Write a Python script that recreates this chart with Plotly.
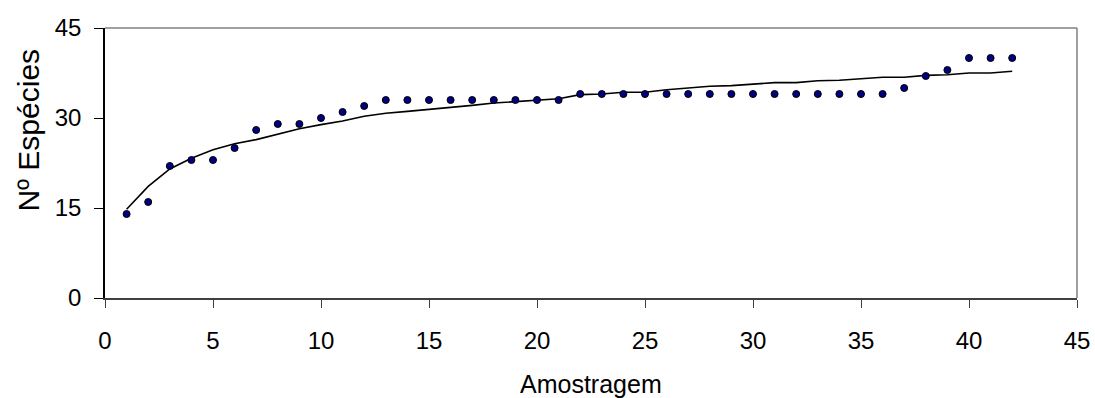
import plotly.graph_objects as go

# Observed species per sample (points)
amostras = list(range(1, 43))
especies_obs = [14, 16, 22, 23, 23, 25, 28, 29, 29, 30,
                31, 32, 33, 33, 33, 33, 33, 33, 33, 33,
                33, 34, 34, 34, 34, 34, 34, 34, 34, 34,
                34, 34, 34, 34, 34, 34, 35, 37, 38, 40,
                40, 40]
# Expected / rarefaction curve (line)
especies_curva = [14.8, 18.6, 21.5, 23.3, 24.7, 25.7, 26.4, 27.3, 28.2, 28.9,
                  29.5, 30.3, 30.8, 31.1, 31.4, 31.8, 32.1, 32.5, 32.7, 32.9,
                  33.2, 33.9, 34.0, 34.3, 34.3, 34.7, 35.0, 35.3, 35.4, 35.7,
                  35.9, 35.9, 36.2, 36.3, 36.6, 36.8, 36.8, 37.1, 37.2, 37.5,
                  37.5, 37.8]

x_ticks = [0, 5, 10, 15, 20, 25, 30, 35, 40, 45]
y_ticks = [0, 15, 30, 45]

FONT = "Liberation Sans, Arial, sans-serif"

fig = go.Figure()
fig.add_trace(go.Scatter(
    x=amostras, y=especies_curva, mode="lines",
    line=dict(color="black", width=1.6), showlegend=False, hoverinfo="skip"))
fig.add_trace(go.Scatter(
    x=amostras, y=especies_obs, mode="markers",
    marker=dict(color="#000080", size=7, line=dict(color="black", width=1)),
    showlegend=False))

fig.update_layout(
    width=1095, height=398,
    margin=dict(l=105, r=18, t=28, b=100, autoexpand=False),
    paper_bgcolor="white", plot_bgcolor="white",
    font=dict(family=FONT, size=24, color="black"),
    xaxis=dict(range=[0, 45], tickvals=x_ticks, ticktext=[str(v) for v in x_ticks],
               showgrid=False, zeroline=False, showline=True, linecolor="#404040",
               linewidth=1.5, ticks="outside", ticklen=8, tickcolor="#404040",
               tickwidth=1, ticklabelstandoff=12,
               tickfont=dict(family=FONT, size=24, color="black")),
    yaxis=dict(range=[0, 45], tickvals=y_ticks, ticktext=[str(v) for v in y_ticks],
               showgrid=False, zeroline=False, showline=True, linecolor="black",
               linewidth=1.5, ticks="outside", ticklen=9, tickcolor="black",
               tickwidth=1, ticklabelstandoff=8,
               tickfont=dict(family=FONT, size=24, color="black")),
    shapes=[
        dict(type="line", xref="paper", yref="paper", x0=0, x1=1, y0=1, y1=1,
             line=dict(color="#808080", width=1.5)),
        dict(type="line", xref="paper", yref="paper", x0=1, x1=1, y0=0, y1=1,
             line=dict(color="#808080", width=1.5)),
    ],
    annotations=[
        dict(text="Amostragem", xref="paper", yref="paper", x=0.5, y=0,
             xanchor="center", yanchor="top", yshift=-70, showarrow=False,
             font=dict(family=FONT, size=25, color="black")),
        dict(text="Nº Espécies", xref="paper", yref="paper", x=0, y=0.62,
             xanchor="center", yanchor="middle", xshift=-76, textangle=-90,
             showarrow=False, font=dict(family=FONT, size=30, color="black")),
    ],
)

fig.write_html("out.html",
               config={"displayModeBar": False},
               post_script="document.body.style.margin='0';document.body.style.overflow='hidden';")
